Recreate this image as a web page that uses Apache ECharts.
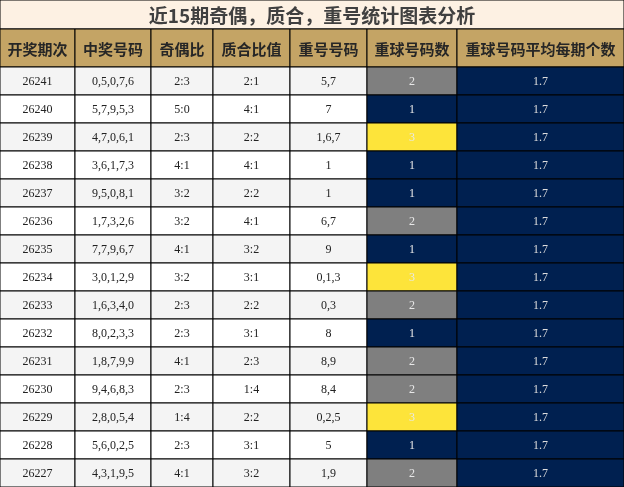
<!DOCTYPE html>
<html><head><meta charset="utf-8">
<script src="https://cdn.jsdelivr.net/npm/echarts@6/dist/echarts.min.js"></script>
<style>html,body{margin:0;padding:0;background:#fff}#c{width:624px;height:487px}</style>
</head><body><div id="c"></div>
<script>
var title = '近15期奇偶，质合，重号统计图表分析';
var headers = ['开奖期次', '中奖号码', '奇偶比', '质合比值', '重号号码', '重球号码数', '重球号码平均每期个数'];
var periods = ['26241','26240','26239','26238','26237','26236','26235','26234','26233','26232','26231','26230','26229','26228','26227'];
var numbers = ['0,5,0,7,6','5,7,9,5,3','4,7,0,6,1','3,6,1,7,3','9,5,0,8,1','1,7,3,2,6','7,7,9,6,7','3,0,1,2,9','1,6,3,4,0','8,0,2,3,3','1,8,7,9,9','9,4,6,8,3','2,8,0,5,4','5,6,0,2,5','4,3,1,9,5'];
var oddEven = ['2:3','5:0','2:3','4:1','3:2','3:2','4:1','3:2','2:3','2:3','4:1','2:3','1:4','2:3','4:1'];
var primeComp = ['2:1','4:1','2:2','4:1','2:2','4:1','3:2','3:1','2:2','3:1','2:3','1:4','2:2','3:1','3:2'];
var repeats = ['5,7','7','1,6,7','1','1','6,7','9','0,1,3','0,3','8','8,9','8,4','0,2,5','5','1,9'];
var repeatCount = [2,1,3,1,1,2,1,3,2,1,2,2,3,1,2];
var avgCount = [1.7,1.7,1.7,1.7,1.7,1.7,1.7,1.7,1.7,1.7,1.7,1.7,1.7,1.7,1.7];

var colEdges = [0, 75, 151, 213, 290, 367, 457, 624];
var titleH = 29, headH = 38, rowH = 28;
var countColor = { 1: '#002050', 2: '#7f7f7f', 3: '#fde43a' };

var cells = [];
cells.push({ x0: 0, x1: 624, y0: 0, y1: titleH, text: title, fill: '#fdf1e3', color: '#404040', size: 19, bold: true, cjk: true });
headers.forEach(function (h, i) {
  cells.push({ x0: colEdges[i], x1: colEdges[i + 1], y0: titleH, y1: titleH + headH, text: h, fill: '#c4a465', color: '#262626', size: 15, bold: true, cjk: true });
});
periods.forEach(function (p, r) {
  var y0 = titleH + headH + r * rowH, y1 = y0 + rowH;
  var bg = r % 2 === 0 ? '#f4f4f4' : '#ffffff';
  var vals = [p, numbers[r], oddEven[r], primeComp[r], repeats[r], String(repeatCount[r]), avgCount[r].toFixed(1)];
  vals.forEach(function (v, i) {
    var fill = bg, color = '#222';
    if (i === 5) { fill = countColor[repeatCount[r]]; color = '#e8e8e8'; }
    if (i === 6) { fill = '#002050'; color = '#dcdcdc'; }
    cells.push({ x0: colEdges[i], x1: colEdges[i + 1], y0: y0, y1: y1, text: v, fill: fill, color: color, size: 12, bold: false, cjk: false });
  });
});

var chart = echarts.init(document.getElementById('c'));
chart.setOption({
  animation: false,
  grid: { left: 0, right: 0, top: 0, bottom: 0 },
  xAxis: { type: 'value', min: 0, max: 624, show: false },
  yAxis: { type: 'value', min: 0, max: 487, inverse: true, show: false },
  series: [{
    type: 'custom',
    data: cells.map(function (c, i) { return [c.x0, c.y0, c.x1, c.y1, i]; }),
    renderItem: function (params, api) {
      var c = cells[api.value(4)];
      var p0 = api.coord([api.value(0), api.value(1)]);
      var p1 = api.coord([api.value(2), api.value(3)]);
      return {
        type: 'group',
        children: [{
          type: 'rect',
          shape: { x: p0[0], y: p0[1], width: p1[0] - p0[0], height: p1[1] - p0[1] },
          style: { fill: c.fill, stroke: '#000', lineWidth: 1 }
        }, {
          type: 'text',
          style: {
            x: (p0[0] + p1[0]) / 2, y: (p0[1] + p1[1]) / 2 + 1,
            text: c.text, fill: c.color, align: 'center', verticalAlign: 'middle',
            font: (c.bold ? 'bold ' : '') + c.size + 'px ' + (c.cjk ? '"Noto Sans CJK SC"' : '"Liberation Serif"')
          }
        }]
      };
    }
  }]
});
</script></body></html>
